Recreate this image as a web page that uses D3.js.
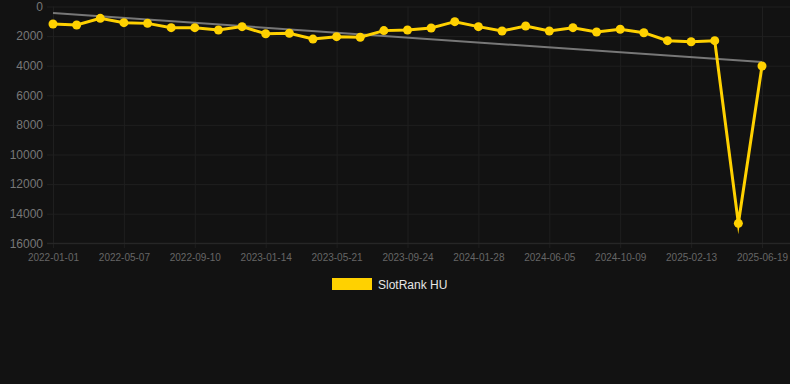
<!DOCTYPE html>
<html>
<head>
<meta charset="utf-8">
<script src="https://cdn.jsdelivr.net/npm/d3@7"></script>
<style>
  html, body { margin: 0; padding: 0; background: #121212; }
  svg { display: block; font-family: "Liberation Sans", Arial, sans-serif; }
</style>
</head>
<body>
<script>
// Categories (one point every ~6 weeks)
var dates = [
  "2022-01-01", "2022-02-12", "2022-03-26",
  "2022-05-07", "2022-06-18", "2022-07-30",
  "2022-09-10", "2022-10-22", "2022-12-03",
  "2023-01-14", "2023-02-25", "2023-04-08",
  "2023-05-21", "2023-07-02", "2023-08-13",
  "2023-09-24", "2023-11-05", "2023-12-17",
  "2024-01-28", "2024-03-10", "2024-04-21",
  "2024-06-05", "2024-07-17", "2024-08-28",
  "2024-10-09", "2024-11-20", "2025-01-01",
  "2025-02-13", "2025-03-27", "2025-05-08",
  "2025-06-19"
];

// SlotRank HU values
var ranks = [
  1180, 1250, 800, 1090, 1140, 1430, 1430, 1590, 1360, 1840, 1810,
  2200, 2040, 2080, 1630, 1590, 1450, 1025, 1360, 1655, 1320, 1655,
  1430, 1720, 1540, 1770, 2310, 2380, 2310, 14650, 4020
];

// Tick labels
var xTickLabels = [
  "2022-01-01", "2022-05-07", "2022-09-10", "2023-01-14", "2023-05-21",
  "2023-09-24", "2024-01-28", "2024-06-05", "2024-10-09", "2025-02-13",
  "2025-06-19"
];
var yTicks = [0, 2000, 4000, 6000, 8000, 10000, 12000, 14000, 16000];

var seriesName = "SlotRank HU";
var lineColor = "#ffd100";

var W = 790, H = 384;

var svg = d3.select("body").append("svg")
  .attr("width", W)
  .attr("height", H);

svg.append("rect").attr("width", W).attr("height", H).attr("fill", "#121212");

// Scales
var x = d3.scalePoint().domain(dates).range([53, 762]);
var y = d3.scaleLinear().domain([0, 16000]).range([6.5, 243.3]);

// Horizontal grid + y labels
var yAxis = svg.append("g")
  .attr("transform", "translate(47,0)")
  .call(d3.axisLeft(y).tickValues(yTicks).tickSize(-(W - 47)).tickPadding(4).tickFormat(d3.format("d")));
yAxis.select(".domain").remove();
yAxis.selectAll(".tick line").attr("stroke", "#1f1f1f");
yAxis.selectAll(".tick text")
  .attr("fill", "#777")
  .attr("font-size", 12);

// Vertical grid + x labels
var xAxis = svg.append("g")
  .attr("transform", "translate(0,248)")
  .call(d3.axisBottom(x).tickValues(xTickLabels).tickSize(-241.5).tickPadding(6));
xAxis.select(".domain").remove();
xAxis.selectAll(".tick line").attr("stroke", "#1f1f1f");
xAxis.selectAll(".tick text")
  .attr("fill", "#666")
  .attr("font-size", 10);

// bottom axis line
svg.append("line")
  .attr("x1", 47).attr("x2", W)
  .attr("y1", y(16000)).attr("y2", y(16000))
  .attr("stroke", "#2a2a2a");

// Linear regression trend line
var n = ranks.length;
var mx = d3.mean(ranks, function (d, i) { return i; });
var my = d3.mean(ranks);
var num = d3.sum(ranks, function (d, i) { return (i - mx) * (d - my); });
var den = d3.sum(ranks, function (d, i) { return (i - mx) * (i - mx); });
var slope = num / den;
var intercept = my - slope * mx;

svg.append("line")
  .attr("x1", x(dates[0]))
  .attr("y1", y(intercept))
  .attr("x2", x(dates[n - 1]))
  .attr("y2", y(intercept + slope * (n - 1)))
  .attr("stroke", "#777")
  .attr("stroke-width", 2);

// Data line
var line = d3.line()
  .x(function (d, i) { return x(dates[i]); })
  .y(function (d) { return y(d); });

svg.append("path")
  .datum(ranks)
  .attr("fill", "none")
  .attr("stroke", lineColor)
  .attr("stroke-width", 3)
  .attr("stroke-linejoin", "miter")
  .attr("stroke-miterlimit", 10)
  .attr("d", line);

svg.selectAll("circle.pt")
  .data(ranks)
  .enter()
  .append("circle")
  .attr("class", "pt")
  .attr("cx", function (d, i) { return x(dates[i]); })
  .attr("cy", function (d) { return y(d); })
  .attr("r", 4.5)
  .attr("fill", lineColor);

// Legend
var legend = svg.append("g");
legend.append("rect")
  .attr("x", 332).attr("y", 278)
  .attr("width", 40).attr("height", 12)
  .attr("fill", lineColor);
legend.append("text")
  .attr("x", 378).attr("y", 288.5)
  .attr("fill", "#e6e6e6")
  .attr("font-size", 12)
  .text(seriesName);
</script>
</body>
</html>
